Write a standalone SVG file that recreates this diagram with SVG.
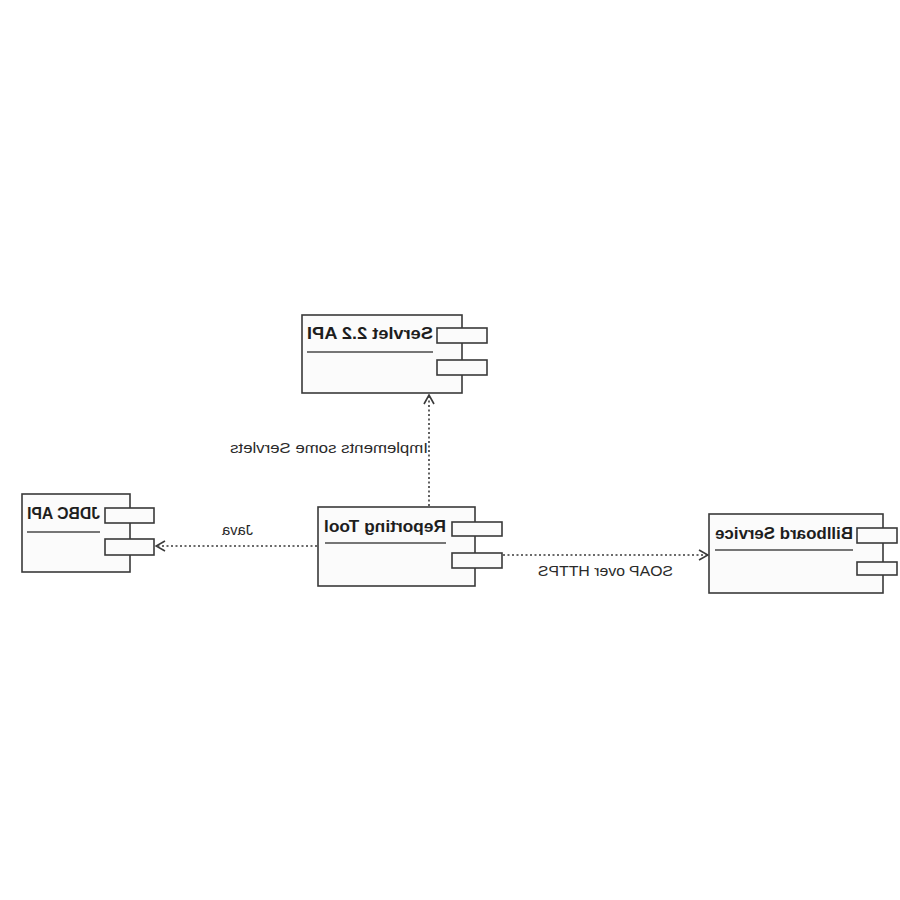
<svg xmlns="http://www.w3.org/2000/svg" width="900" height="900" viewBox="0 0 900 900">
  <style>
    .box { fill: #fbfbfb; stroke: #3a3a3a; stroke-width: 1.6; }
    .tab { fill: #fbfbfb; stroke: #3a3a3a; stroke-width: 1.6; }
    .rule { stroke: #4a4a4a; stroke-width: 1.6; }
    .title { font-family: "Liberation Sans", Arial, sans-serif; font-weight: bold; font-size: 16.5px; fill: #1e1e1e; }
    .label { font-family: "Liberation Sans", Arial, sans-serif; font-size: 15px; fill: #2a2a2a; }
    .dep { fill: none; stroke: #3a3a3a; stroke-width: 1.6; stroke-dasharray: 2 2.5; }
  </style>
  <defs>
    <marker id="open" viewBox="0 0 12 12" refX="11" refY="6" markerWidth="12" markerHeight="12" markerUnits="userSpaceOnUse" orient="auto">
      <path d="M2,1 L11,6 L2,11" fill="none" stroke="#3a3a3a" stroke-width="1.6"/>
    </marker>
  </defs>
  <rect width="900" height="900" fill="#ffffff"/>

  <!-- dependency connectors -->
  <g id="connectors">
    <line class="dep" x1="429" y1="506" x2="429" y2="395" marker-end="url(#open)"/>
    <line class="dep" x1="317" y1="546" x2="156" y2="546" marker-end="url(#open)"/>
    <line class="dep" x1="503" y1="555" x2="708" y2="555" marker-end="url(#open)"/>
    <text class="label" transform="translate(428,453) scale(-1,1)" textLength="198" lengthAdjust="spacingAndGlyphs">Implements some Servlets</text>
    <text class="label" transform="translate(253,535) scale(-1,1)" textLength="31" lengthAdjust="spacingAndGlyphs">Java</text>
    <text class="label" transform="translate(673,576) scale(-1,1)" textLength="135" lengthAdjust="spacingAndGlyphs">SOAP over HTTPS</text>
  </g>

  <g id="servlet-api">
    <rect class="box" x="302" y="315" width="160" height="78"/>
    <rect class="tab" x="437" y="328" width="50" height="15"/>
    <rect class="tab" x="437" y="360" width="50" height="15"/>
    <text class="title" transform="translate(433,339) scale(-1,1)" textLength="126" lengthAdjust="spacingAndGlyphs">Servlet 2.2 API</text>
    <line class="rule" x1="307" y1="352" x2="433" y2="352"/>
  </g>

  <g id="jdbc-api">
    <rect class="box" x="22" y="494" width="108" height="78"/>
    <rect class="tab" x="105" y="508" width="49" height="15"/>
    <rect class="tab" x="105" y="539" width="49" height="16"/>
    <text class="title" transform="translate(100,519) scale(-1,1)" textLength="73" lengthAdjust="spacingAndGlyphs">JDBC API</text>
    <line class="rule" x1="27" y1="532" x2="100" y2="532"/>
  </g>

  <g id="reporting-tool">
    <rect class="box" x="318" y="507" width="157" height="79"/>
    <rect class="tab" x="452" y="522" width="50" height="14"/>
    <rect class="tab" x="452" y="553" width="50" height="15"/>
    <text class="title" transform="translate(446,532) scale(-1,1)" textLength="122" lengthAdjust="spacingAndGlyphs">Reporting Tool</text>
    <line class="rule" x1="325" y1="543" x2="446" y2="543"/>
  </g>

  <g id="billboard-service">
    <rect class="box" x="709" y="514" width="174" height="79"/>
    <rect class="tab" x="857" y="528" width="40" height="15"/>
    <rect class="tab" x="857" y="562" width="40" height="13"/>
    <text class="title" transform="translate(853,539) scale(-1,1)" textLength="138" lengthAdjust="spacingAndGlyphs">Billboard Service</text>
    <line class="rule" x1="715" y1="550" x2="853" y2="550"/>
  </g>
</svg>
